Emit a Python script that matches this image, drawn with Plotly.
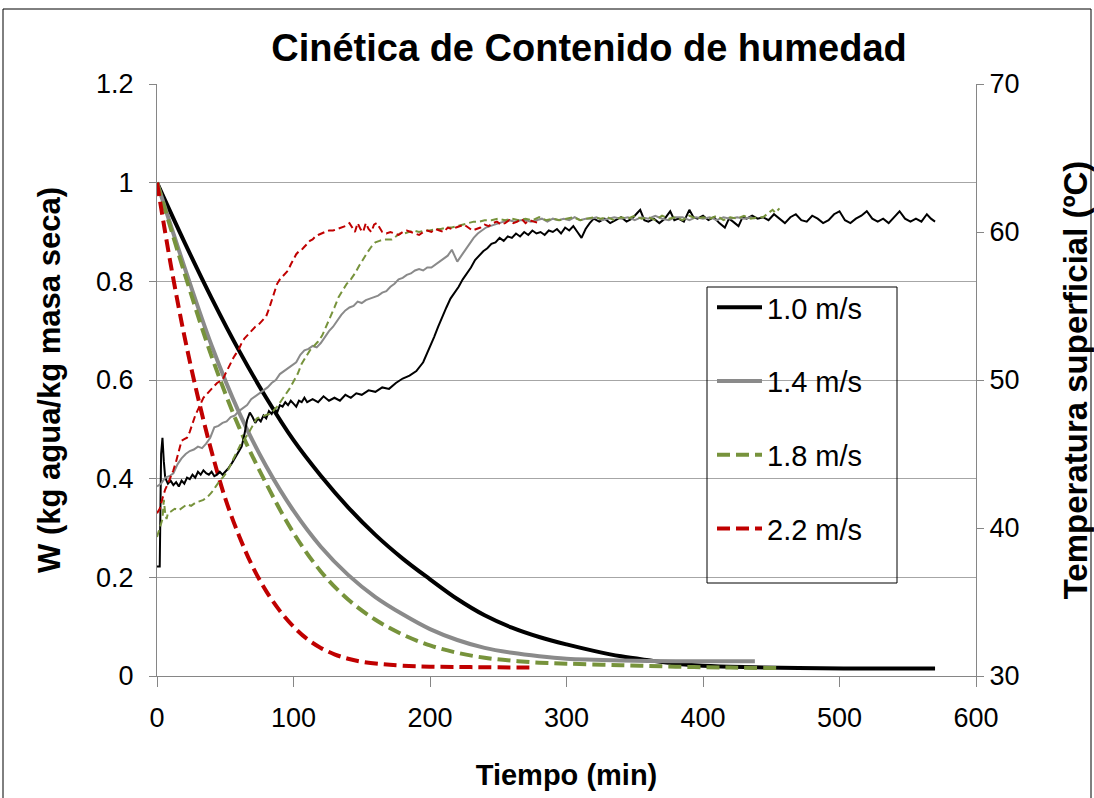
import plotly.graph_objects as go

# ---------------- data ----------------
# Moisture content W (kg agua/kg masa seca) vs time (min)
t_w10 = [0, 20, 40, 60, 80, 100, 120, 140, 160, 180, 200, 220, 240, 260, 280, 300, 320, 340, 360, 380, 400, 430, 470, 520, 570]
w10 = [1.0, 0.880, 0.766, 0.660, 0.564, 0.478, 0.406, 0.342, 0.286, 0.238, 0.196, 0.156, 0.123, 0.098, 0.079, 0.064, 0.051, 0.040, 0.032, 0.025, 0.021, 0.018, 0.016, 0.015, 0.015]

t_w14 = [0, 20, 40, 60, 80, 100, 120, 140, 160, 180, 200, 220, 240, 260, 280, 300, 320, 350, 380, 438]
w14 = [1.0, 0.83, 0.67, 0.535, 0.425, 0.335, 0.262, 0.205, 0.160, 0.125, 0.095, 0.073, 0.057, 0.047, 0.040, 0.035, 0.033, 0.031, 0.030, 0.030]

t_w18 = [0, 20, 40, 60, 80, 100, 120, 140, 160, 180, 200, 220, 240, 260, 280, 300, 340, 380, 420, 456]
w18 = [1.0, 0.818, 0.648, 0.505, 0.39, 0.29, 0.212, 0.155, 0.114, 0.084, 0.062, 0.047, 0.037, 0.031, 0.027, 0.025, 0.022, 0.019, 0.017, 0.016]

t_w22 = [0, 10, 20, 30, 40, 50, 60, 70, 80, 90, 100, 110, 120, 130, 140, 150, 165, 180, 200, 230, 277]
w22 = [1.0, 0.835, 0.69, 0.565, 0.455, 0.36, 0.285, 0.222, 0.172, 0.132, 0.1, 0.075, 0.057, 0.044, 0.035, 0.029, 0.024, 0.021, 0.019, 0.018, 0.017]

# Surface temperature (ºC) vs time (min)
t_T10 = [0, 2, 3, 4, 5, 6, 8, 10, 12, 14, 16, 18, 20, 22, 24, 26, 28, 30, 32, 34, 36, 38, 40, 42, 44, 46, 48,
         52, 55, 58, 60, 62, 64, 66, 68, 70, 72, 74, 76, 78, 80, 82, 84, 86, 88, 90, 92, 94, 96, 98, 100,
         102, 104, 106, 108, 110, 114, 118, 122, 126, 130, 134, 138, 142, 146, 150, 155, 160, 165, 170, 175,
         180, 185, 190, 195, 198, 200, 203, 206, 209, 212, 215, 218, 221, 224, 227, 230, 233, 236, 239, 242,
         245, 248, 251, 254, 257, 260, 263, 266, 269, 272, 275, 278, 281, 284, 287, 290, 293, 296, 299, 302,
         305, 308, 311, 314, 317, 320, 324, 328, 332, 336, 340, 344, 348, 352, 354, 357, 360, 364, 368, 372,
         376, 379, 382, 386, 390, 393, 396, 400, 404, 408, 412, 416, 419, 422, 426, 429, 432, 436, 440, 444,
         448, 452, 456, 460, 464, 468, 472, 476, 480, 484, 488, 492, 496, 500, 504, 508, 512, 516, 520, 524,
         528, 532, 536, 540, 544, 548, 552, 556, 560, 564, 567, 570]
T10 = [37.4, 37.4, 45.0, 46.1, 44.5, 43.4, 43.0, 43.2, 42.9, 43.1, 42.8, 43.2, 43.0, 43.4, 43.3, 43.6, 43.4, 43.8, 43.6, 43.9, 43.7, 43.6, 43.8, 43.5, 43.6, 43.8, 43.6,
       44.0, 44.4, 44.9, 45.2, 45.5, 46.3, 47.3, 47.8, 47.5, 47.1, 47.4, 47.2, 47.6, 47.4, 47.9, 47.7, 48.1, 47.8, 48.3, 48.2, 48.5, 48.3, 48.6, 48.4,
       48.2, 48.6, 48.5, 48.8, 48.5, 48.7, 48.5, 48.9, 48.6, 48.8, 48.6, 49.0, 48.8, 49.1, 49.0, 49.3, 49.2, 49.5, 49.4, 49.8,
       50.1, 50.3, 50.6, 51.2, 51.8, 52.3, 52.9, 53.6, 54.3, 54.9, 55.5, 55.9, 56.3, 56.8, 57.2, 57.6, 58.1, 58.4, 58.7, 58.9,
       59.2, 59.3, 59.6, 59.4, 59.7, 59.6, 59.9, 59.7, 60.0, 59.8, 60.1, 59.9, 60.0, 59.8, 60.1, 60.0, 60.2, 59.9, 60.3, 60.1,
       60.4, 60.0, 59.6, 60.2, 60.6, 60.9, 60.7, 60.9, 60.6, 60.8, 61.0, 60.7, 60.9, 61.3, 61.5, 60.8, 60.7, 60.9, 60.6, 60.9,
       61.4, 60.8, 60.9, 60.7, 61.5, 61.0, 60.9, 61.1, 60.8, 61.0, 60.6, 60.3, 60.9, 60.7, 60.4, 61.0, 60.9, 61.1, 60.9, 61.0,
       60.8, 61.2, 60.9, 60.6, 61.0, 61.2, 60.8, 60.7, 61.1, 60.9, 60.6, 60.8, 61.2, 61.4, 60.8, 60.6, 60.9, 61.1, 61.4, 60.9,
       60.7, 60.9, 60.6, 61.0, 61.4, 60.9, 60.7, 60.9, 60.7, 61.2, 60.9, 60.7]

t_T14 = [0, 3, 6, 9, 12, 15, 18, 21, 24, 27, 30, 33, 36, 39, 42, 45, 48, 51, 54, 57, 60, 63, 66, 69, 72, 75, 78, 81, 84,
         87, 90, 93, 96, 99, 102, 105, 108, 111, 114, 117, 120, 123, 126, 129, 132, 135, 138, 141, 144, 147, 150,
         153, 156, 159, 162, 165, 168, 171, 174, 177, 180, 183, 186, 189, 192, 195, 198, 201, 204, 207, 210, 213,
         216, 218, 220, 223, 226, 229, 232, 235, 238, 241, 244, 247, 250, 254, 258, 262, 266, 270, 274, 278, 282,
         286, 290, 294, 298, 302, 306, 310, 314, 318, 322, 326, 330, 335, 340, 345, 350, 355, 360, 365, 370, 375,
         380, 385, 390, 395, 400, 405, 410, 415, 420, 425, 430, 435, 438]
T14 = [42.8, 43.0, 43.4, 43.5, 43.7, 44.3, 44.7, 45.0, 45.2, 45.3, 45.5, 45.4, 45.7, 46.1, 46.8, 46.9, 47.1, 47.2, 47.5, 47.6, 47.9, 48.1, 48.3, 48.7, 48.9, 49.1, 49.3, 49.5, 49.8,
       50.0, 50.4, 50.6, 50.8, 51.0, 51.2, 51.7, 52.0, 52.1, 52.3, 52.2, 52.5, 52.9, 53.3, 53.6, 54.0, 54.4, 54.7, 54.9, 55.0, 55.3, 55.2,
       55.4, 55.5, 55.6, 55.7, 55.9, 56.0, 56.3, 56.5, 56.8, 56.9, 57.1, 57.2, 57.4, 57.5, 57.4, 57.6, 57.6, 57.8, 58.0, 58.2, 58.4,
       58.8, 58.4, 58.0, 58.4, 58.8, 59.2, 59.6, 59.9, 60.1, 60.3, 60.4, 60.5, 60.6, 60.7, 60.8, 60.7, 60.8, 60.8, 60.7, 60.8, 60.9,
       60.7, 60.9, 60.8, 60.9, 60.8, 61.0, 60.8, 60.9, 60.9, 61.0, 60.8, 60.9, 61.0, 60.9, 61.0, 60.8, 61.0, 60.9, 61.1, 60.9, 60.8,
       61.0, 61.0, 60.8, 61.0, 60.9, 61.0, 60.8, 61.0, 60.9, 61.0, 60.9, 61.0, 60.9]

t_T18 = [0, 2, 4, 5, 6, 7, 8, 10, 13, 16, 19, 22, 25, 28, 31, 34, 37, 40, 43, 46, 49, 52, 55, 58, 61, 64, 67, 70, 73,
         76, 79, 82, 85, 88, 91, 94, 97, 100, 103, 106, 109, 112, 115, 118, 121, 124, 127, 130, 133, 136, 139, 142,
         145, 148, 151, 154, 157, 160, 163, 166, 169, 172, 175, 178, 181, 184, 188, 192, 196, 200, 204, 208, 212,
         216, 220, 224, 228, 232, 236, 240, 245, 250, 255, 260, 265, 270, 275, 280, 285, 290, 295, 300, 305, 310,
         315, 320, 325, 330, 335, 340, 345, 350, 355, 360, 365, 370, 375, 380, 385, 390, 395, 400, 405, 410, 415,
         420, 425, 430, 435, 440, 444, 448, 451, 453, 456]
T18 = [39.4, 40.0, 40.6, 41.9, 41.0, 40.6, 41.0, 41.1, 41.3, 41.2, 41.4, 41.6, 41.5, 41.7, 41.8, 41.9, 42.1, 42.4, 42.8, 43.2, 43.5, 43.9, 44.5, 45.1, 45.6, 46.0, 46.4, 46.9, 47.4,
       47.5, 47.6, 47.7, 47.9, 48.2, 48.6, 49.0, 49.4, 49.9, 50.4, 51.1, 51.6, 52.0, 52.3, 52.6, 53.0, 53.6, 54.3, 54.9, 55.6, 56.1, 56.5, 56.8,
       57.2, 57.7, 58.2, 58.6, 59.0, 59.3, 59.4, 59.5, 59.5, 59.5, 59.7, 59.9, 59.9, 60.0, 60.1, 60.0, 60.1, 60.1, 60.2, 60.2, 60.3,
       60.3, 60.4, 60.5, 60.6, 60.7, 60.7, 60.8, 60.8, 60.9, 60.8, 60.9, 60.8, 60.9, 60.8, 61.0, 60.8, 60.9, 60.8, 60.9, 61.0, 60.8,
       60.9, 61.0, 60.9, 61.0, 60.8, 61.0, 60.9, 61.1, 60.9, 61.0, 60.8, 61.1, 60.9, 61.0, 60.8, 61.1, 60.9, 61.0, 60.9, 61.1, 60.8,
       61.0, 60.9, 61.1, 60.9, 61.0, 61.0, 61.3, 61.5, 61.3, 61.6]

t_T22 = [0, 2, 4, 6, 8, 10, 12, 14, 16, 18, 20, 22, 24, 26, 28, 30, 32, 34, 36, 38, 40, 42, 44, 46, 48, 50, 52, 54, 56,
         58, 60, 62, 64, 66, 68, 70, 72, 74, 76, 78, 80, 82, 84, 86, 88, 90, 92, 94, 96, 98, 100, 102, 104, 106,
         108, 110, 112, 114, 116, 118, 120, 123, 126, 129, 132, 135, 138, 141, 143, 145, 147, 149, 151, 153, 155,
         157, 159, 161, 163, 165, 168, 171, 174, 177, 180, 183, 186, 189, 192, 195, 198, 201, 204, 207, 210, 213,
         216, 219, 222, 225, 228, 231, 234, 237, 240, 243, 246, 249, 252, 255, 258, 261, 264, 267, 270, 273, 276, 280]
T22 = [41.0, 41.3, 42.0, 42.6, 43.0, 43.4, 43.9, 44.5, 45.2, 45.9, 46.0, 46.1, 46.5, 47.1, 47.6, 48.0, 48.4, 48.8, 49.0, 49.2, 49.4, 49.6, 49.8, 49.9, 50.0, 50.4, 50.8, 51.1, 51.5,
       51.8, 52.1, 52.5, 52.8, 53.0, 53.2, 53.4, 53.6, 53.7, 53.9, 54.1, 54.3, 54.8, 55.4, 56.0, 56.5, 56.8, 57.0, 57.2, 57.4, 57.8, 58.2, 58.5, 58.7, 58.8,
       59.0, 59.2, 59.4, 59.5, 59.7, 59.8, 59.9, 60.0, 60.1, 60.1, 60.2, 60.3, 60.4, 60.6, 60.3, 60.0, 60.6, 60.2, 60.0, 60.6, 60.2,
       60.0, 60.5, 60.6, 60.3, 60.0, 59.9, 60.0, 59.9, 59.8, 60.0, 60.1, 60.0, 59.9, 59.8, 60.0, 60.1, 60.0, 60.2, 60.1, 60.0, 60.3,
       60.2, 60.3, 60.4, 60.5, 60.3, 60.1, 60.2, 60.3, 60.5, 60.4, 60.6, 60.7, 60.5, 60.6, 60.8, 60.6, 60.7, 60.9, 60.6, 60.8, 60.7, 60.6]

series_names = ["1.0 m/s", "1.4 m/s", "1.8 m/s", "2.2 m/s"]
x_ticks = [0, 100, 200, 300, 400, 500, 600]
y_ticks = [0, 0.2, 0.4, 0.6, 0.8, 1, 1.2]
y2_ticks = [30, 40, 50, 60, 70]

# ---------------- styling ----------------
BLACK = "#000000"
GRAY = "#8a8a8a"
GREEN = "#77933C"
RED = "#C00000"
FONT = "Arial, Liberation Sans, sans-serif"

fig = go.Figure()

# thin temperature curves (secondary axis)
temp_sets = [(t_T10, T10, BLACK, "solid"), (t_T14, T14, GRAY, "solid"),
             (t_T18, T18, GREEN, "7px,4px"), (t_T22, T22, RED, "7px,4px")]
for t, T, c, d in temp_sets:
    fig.add_trace(go.Scatter(x=t, y=T, yaxis="y2", mode="lines", showlegend=False,
                             line=dict(color=c, width=2, dash=d), hoverinfo="skip"))

# thick moisture curves (primary axis)
w_sets = [(t_w10, w10, BLACK, "solid"), (t_w14, w14, GRAY, "solid"),
          (t_w18, w18, GREEN, "13px,6px"), (t_w22, w22, RED, "13px,6px")]
for i, (t, w, c, d) in enumerate(w_sets):
    fig.add_trace(go.Scatter(x=t, y=w, mode="lines", name=series_names[i],
                             legendgroup=f"g{i}",
                             line=dict(color=c, width=4, dash=d, shape="spline", smoothing=1.0)))

L, R, T_, B = 157, 118, 84, 122
W_, H_ = 1094, 798
pw, ph = W_ - L - R, H_ - T_ - B

def px2paper_x(px):
    return (px - L) / pw

def py2paper_y(py):
    return (H_ - B - py) / ph

axis_common = dict(showline=True, linecolor="#868686", linewidth=1, ticks="outside",
                   tickcolor="#868686", tickfont=dict(family=FONT, size=27, color="black"),
                   zeroline=False, automargin=False)

fig.update_layout(
    width=W_, height=H_,
    margin=dict(l=L, r=R, t=T_, b=B, autoexpand=False),
    paper_bgcolor="white", plot_bgcolor="white",
    font=dict(family=FONT, color="black"),
    title=dict(text="<b>Cinética de Contenido de humedad</b>", x=589 / W_, xref="container",
               y=1 - 48 / H_, yref="container", yanchor="middle", xanchor="center",
               font=dict(family=FONT, size=38, color="black")),
    xaxis=dict(range=[0, 600], tickvals=x_ticks, ticklen=10, showgrid=False, ticklabelstandoff=8,
               title=dict(text="<b>Tiempo (min)</b>", font=dict(family=FONT, size=29), standoff=32),
               **axis_common),
    yaxis=dict(range=[0, 1.2], tickvals=y_ticks, ticklen=7, showgrid=True, gridcolor="#a6a6a6",
               gridwidth=1, ticklabelstandoff=10,
               title=dict(text="<b>W (kg agua/kg masa seca)</b>", font=dict(family=FONT, size=31), standoff=26),
               **axis_common),
    yaxis2=dict(range=[30, 70], tickvals=y2_ticks, ticklen=7, overlaying="y", side="right",
                showgrid=False,
                title=dict(text="<b>Temperatura superficial (ºC)</b>", font=dict(family=FONT, size=33), standoff=46),
                **axis_common),
    legend=dict(x=px2paper_x(712), y=py2paper_y(282), xanchor="left", yanchor="top",
                bgcolor="rgba(0,0,0,0)", borderwidth=0, traceorder="grouped", tracegroupgap=33,
                font=dict(family=FONT, size=29, color="black"), itemwidth=45),
    shapes=[
        dict(type="rect", xref="paper", yref="paper",
             x0=px2paper_x(707), x1=px2paper_x(897), y0=py2paper_y(583), y1=py2paper_y(287),
             line=dict(color="black", width=1), fillcolor="rgba(0,0,0,0)", layer="above"),
        dict(type="rect", xref="paper", yref="paper",
             x0=px2paper_x(3), x1=px2paper_x(1091), y0=py2paper_y(805), y1=py2paper_y(9),
             line=dict(color="black", width=1), fillcolor="rgba(0,0,0,0)"),
    ],
)

fig.write_html("out.html")
